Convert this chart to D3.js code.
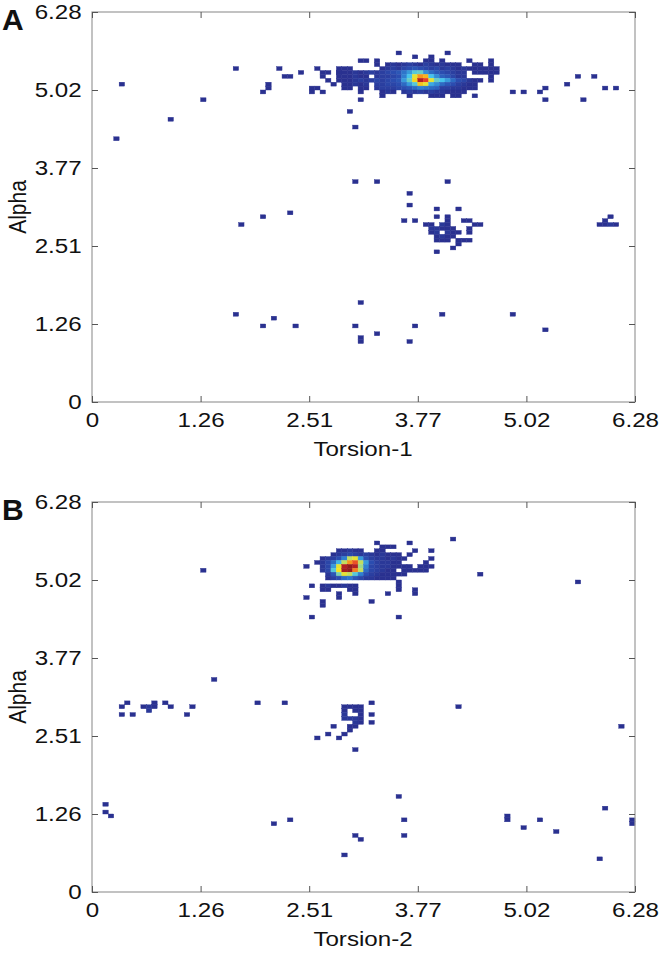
<!DOCTYPE html>
<html>
<head>
<script src="https://cdn.jsdelivr.net/npm/d3@7"></script>
<style>
body { margin: 0; background: #fff; }
text { font-family: "Liberation Sans", Arial, sans-serif; fill: #111; }
</style>
</head>
<body>
<script>
// 2D histograms, 100 x 100 bins over [0, 2*pi]
var TWO_PI = 2 * Math.PI;
var nBins = 100;
var tickLabels = ["0", "1.26", "2.51", "3.77", "5.02", "6.28"];
var yTitle = "Alpha";
var panelLetters = ["A", "B"];
var xTitles = ["Torsion-1", "Torsion-2"];

// rows: [alpha bin j, first torsion bin i, counts for bins i, i+1, ...]
var rowsA = [
  [67, 4, [1]], [81, 5, [1]], [72, 14, [1]], [77, 20, [1]], [85, 26, [1]],
  [79, 31, [1]], [80, 32, [1]], [81, 32, [1]], [85, 34, [1]], [83, 35, [1, 1]],
  [84, 38, [1]], [85, 41, [1]], [84, 42, [1, 1, 0, 1]], [80, 40, [1, 1]], [79, 40, [1, 0, 1]],
  [82, 43, [1, 0, 1, 1]], [81, 44, [1]], [83, 42, [1, 0, 0, 1, 1]],
  [89, 56, [1, 0, 0, 0, 0, 0, 0, 0, 0, 1]],
  [88, 59, [1, 0, 0, 1]],
  [87, 49, [1, 1, 0, 1, 0, 0, 0, 0, 0, 0, 0, 0, 1, 1, 0, 1, 0, 0, 0, 0, 1, 0, 0, 0, 1]],
  [86, 52, [1, 0, 1, 2, 1, 2, 3, 2, 1, 3, 2, 1, 2, 1, 1, 1, 0, 0, 1, 1, 0, 1]],
  [85, 45, [1, 1, 1]],
  [85, 53, [1, 2, 3, 2, 4, 5, 6, 5, 4, 3, 4, 2, 3, 2, 1, 2, 1, 1, 1, 1, 1, 1]],
  [84, 45, [1, 1, 1, 2, 1, 2, 3, 2, 3, 4, 5, 6, 9, 12, 16, 17, 11, 8, 6, 5, 4, 3, 2, 2, 0, 1, 1, 1, 1, 1]],
  [83, 47, [1, 2, 1, 1, 0, 2, 3, 3, 4, 5, 10, 15, 24, 30, 28, 15, 11, 7, 6, 4, 2, 2, 0, 0, 0, 0, 1]],
  [82, 47, [1, 2, 3, 2, 3, 4, 3, 4, 5, 6, 12, 17, 26, 38, 34, 24, 17, 15, 12, 8, 5, 4, 2, 1, 1, 0, 1]],
  [81, 46, [1, 1, 2, 1, 2, 0, 3, 3, 4, 4, 5, 8, 12, 16, 27, 24, 13, 11, 8, 6, 5, 3, 2, 1, 1]],
  [80, 46, [1, 1, 0, 1, 1, 0, 2, 3, 3, 3, 4, 5, 6, 8, 10, 9, 8, 7, 3, 3, 2, 2, 1, 1, 1]],
  [79, 49, [1, 0, 0, 0, 1, 2, 1, 0, 2, 3, 2, 3, 2, 3, 2, 2, 1, 1, 1, 1]],
  [78, 53, [1, 0, 0, 0, 0, 1, 0, 0, 0, 1, 1, 1, 0, 1, 1, 0, 0, 1]],
  [77, 49, [1]], [74, 47, [1]], [70, 48, [1]],
  [79, 77, [1]], [79, 79, [1]], [79, 82, [1]], [80, 83, [1]], [77, 83, [1]],
  [81, 87, [1]], [83, 89, [1]], [77, 90, [1]], [83, 92, [1]], [80, 94, [1]], [80, 96, [1]],
  [56, 48, [1]], [56, 52, [1]], [56, 65, [1]], [53, 58, [1]], [50, 58, [1]],
  [49, 63, [1]], [49, 67, [1]], [48, 36, [1]],
  [47, 31, [1]], [47, 63, [1]], [47, 65, [1]], [47, 95, [1]],
  [46, 57, [1, 0, 1]], [46, 65, [1, 0, 0, 1, 1]], [46, 94, [1]],
  [45, 27, [1]], [45, 61, [1, 1, 0, 2, 1, 0, 0, 0, 0, 1, 1]], [45, 93, [1, 1, 2, 1]],
  [44, 62, [2, 2, 1, 1, 1, 0, 0, 1]],
  [43, 62, [1, 2, 0, 2, 1, 1, 0, 1]],
  [42, 63, [1, 2, 1, 1]],
  [41, 63, [1, 1, 1, 0, 1, 1, 1]],
  [40, 67, [1]], [39, 66, [1]], [38, 63, [1]],
  [25, 49, [1]], [22, 26, [1]], [22, 64, [1]], [22, 77, [1]], [21, 33, [1]],
  [19, 31, [1]], [19, 37, [1]], [19, 48, [1]], [19, 59, [1]], [18, 83, [1]],
  [17, 52, [1]], [16, 49, [1]], [15, 49, [1]], [15, 58, [1]]
];

var rowsB = [
  [22, 2, [1]], [20, 2, [1]], [19, 3, [1]],
  [48, 6, [1]], [47, 5, [1]], [45, 5, [1]], [45, 7, [1]],
  [48, 11, [1]], [47, 9, [1, 2, 1]], [46, 10, [2]],
  [48, 13, [1]], [47, 14, [1]], [45, 17, [1]], [47, 18, [1]],
  [54, 22, [1]], [82, 20, [1]], [48, 30, [1]], [48, 35, [1]],
  [17, 33, [1]], [18, 36, [1]],
  [48, 51, [1]], [45, 51, [1]], [43, 51, [1]],
  [47, 46, [1, 1, 1, 1]],
  [46, 46, [1, 0, 1, 1]],
  [45, 46, [2, 0, 0, 1]],
  [44, 46, [2, 2, 2, 1]],
  [43, 48, [2, 1]],
  [42, 44, [1, 0, 0, 1, 1]],
  [41, 47, [1]],
  [40, 43, [1, 0, 0, 1]],
  [39, 41, [1, 0, 0, 0, 1]],
  [36, 48, [1]], [47, 67, [1]], [42, 97, [1]],
  [9, 46, [1]], [14, 48, [1]], [13, 49, [1]], [24, 56, [1]], [18, 57, [1]], [14, 57, [1]],
  [18, 76, [1]], [19, 76, [1]], [16, 79, [1]], [18, 82, [1]], [15, 85, [1]],
  [8, 93, [1]], [21, 94, [1]], [17, 99, [1]], [18, 99, [1]],
  [90, 66, [1]], [89, 52, [1]], [89, 58, [1]], [88, 53, [1, 1, 1]],
  [87, 45, [1, 1, 2, 1, 1, 0, 0, 1, 1, 0, 0, 0, 0, 0, 1, 0, 0, 1]],
  [86, 44, [1, 2, 3, 4, 3, 2, 3, 2, 1, 2, 1, 1, 1, 0, 1]],
  [85, 42, [1, 2, 3, 5, 10, 22, 24, 12, 5, 3, 2, 2, 1, 2, 1, 1, 0, 0, 0, 0, 1]],
  [84, 41, [1, 2, 4, 8, 14, 22, 30, 33, 22, 12, 5, 3, 2, 2, 1, 1, 0, 0, 0, 0, 1]],
  [83, 39, [1, 0, 0, 2, 4, 12, 24, 38, 40, 38, 20, 10, 4, 3, 2, 2, 1, 1, 1, 1, 0, 1, 1, 1]],
  [82, 42, [2, 4, 16, 25, 39, 40, 31, 22, 8, 4, 3, 2, 1, 1, 0, 1, 1, 1, 1, 1]],
  [81, 43, [2, 6, 18, 24, 22, 16, 10, 5, 3, 2, 1, 1, 1, 1, 1]],
  [80, 43, [1, 3, 5, 8, 9, 6, 4, 2, 2, 1, 1, 1, 1]],
  [81, 71, [1]], [79, 89, [1]], [79, 56, [1]],
  [78, 40, [1, 0, 1, 2, 1, 1, 2, 1, 1]], [78, 56, [1]],
  [77, 42, [1, 1, 0, 0, 0, 1, 1]], [77, 56, [1]], [77, 59, [1]],
  [76, 45, [1, 0, 0, 1]], [76, 54, [1]], [76, 59, [1]],
  [75, 39, [1]], [75, 45, [1]], [74, 42, [1]], [74, 51, [1]], [73, 42, [1]],
  [70, 40, [1]], [70, 56, [1]]
];

// jet-like colour map, as printed
var color = d3.scaleLinear()
  .domain([1, 5, 10, 15, 20, 25, 30, 35, 40])
  .range(["#2a3190", "#2b4db0", "#2f7fd0", "#46c3ec", "#9dd88a", "#f7e41e", "#f7941d", "#e3262a", "#931b1e"])
  .clamp(true);

var svg = d3.select("body").append("svg").attr("width", 666).attr("height", 953);

function cellsFrom(rows) {
  var out = [];
  rows.forEach(function (r) {
    r[2].forEach(function (c, k) {
      if (c > 0) out.push({ i: r[1] + k, j: r[0], count: c });
    });
  });
  return out;
}

function drawPanel(top, rows, letter, xTitle) {
  var binW = TWO_PI / nBins;
  var x = d3.scaleLinear().domain([0, TWO_PI]).range([92, 635]);
  var y = d3.scaleLinear().domain([0, TWO_PI]).range([top + 390, top]);
  var g = svg.append("g");
  var tv = tickLabels.map(function (t, k) { return k * TWO_PI / 5; });
  var fmt = function (d, k) { return tickLabels[k]; };

  g.selectAll("rect.cell").data(cellsFrom(rows)).enter().append("rect")
    .attr("class", "cell")
    .attr("x", function (d) { return x(d.i * binW); })
    .attr("y", function (d) { return y((d.j + 1) * binW); })
    .attr("width", function (d) { return x((d.i + 1) * binW) - x(d.i * binW); })
    .attr("height", function (d) { return y(d.j * binW) - y((d.j + 1) * binW); })
    .attr("fill", function (d) { return color(d.count); })
    .attr("stroke", function (d) { return color(d.count); })
    .attr("stroke-width", 0.4);

  g.append("rect").attr("x", 92).attr("y", top).attr("width", 543).attr("height", 390)
    .attr("fill", "none").attr("stroke", "#9a9a9a").attr("stroke-width", 1.2);

  var axB = g.append("g").attr("transform", "translate(0," + (top + 390) + ")")
    .call(d3.axisBottom(x).tickValues(tv).tickFormat(fmt).tickSizeInner(-6).tickSizeOuter(0).tickPadding(10));
  var axT = g.append("g").attr("transform", "translate(0," + top + ")")
    .call(d3.axisTop(x).tickValues(tv).tickFormat("").tickSizeInner(-6).tickSizeOuter(0));
  var axL = g.append("g").attr("transform", "translate(92,0)")
    .call(d3.axisLeft(y).tickValues(tv).tickFormat(fmt).tickSizeInner(-6).tickSizeOuter(0).tickPadding(9));
  var axR = g.append("g").attr("transform", "translate(635,0)")
    .call(d3.axisRight(y).tickValues(tv).tickFormat("").tickSizeInner(-6).tickSizeOuter(0));
  [axB, axT, axL, axR].forEach(function (a) {
    a.select(".domain").remove();
    a.selectAll("line").attr("stroke", "#555");
    a.selectAll("text").attr("font-size", 21).attr("fill", "#111")
      .attr("font-family", "Liberation Sans, Arial, sans-serif")
      .attr("transform", "scale(1.15,1)");
  });

  g.append("text").attr("transform", "translate(363," + (top + 444) + ") scale(1.15,1)")
    .attr("text-anchor", "middle").attr("font-size", 21).text(xTitle);
  g.append("text").attr("transform", "translate(26," + (top + 195) + ") rotate(-90) scale(1,1.15)")
    .attr("text-anchor", "middle").attr("font-size", 21).text(yTitle);
  g.append("text").attr("x", 2).attr("y", top + 18).attr("font-size", 30)
    .attr("font-weight", "bold").text(letter);
}

drawPanel(12, rowsA, panelLetters[0], xTitles[0]);
drawPanel(502, rowsB, panelLetters[1], xTitles[1]);
</script>
</body>
</html>
